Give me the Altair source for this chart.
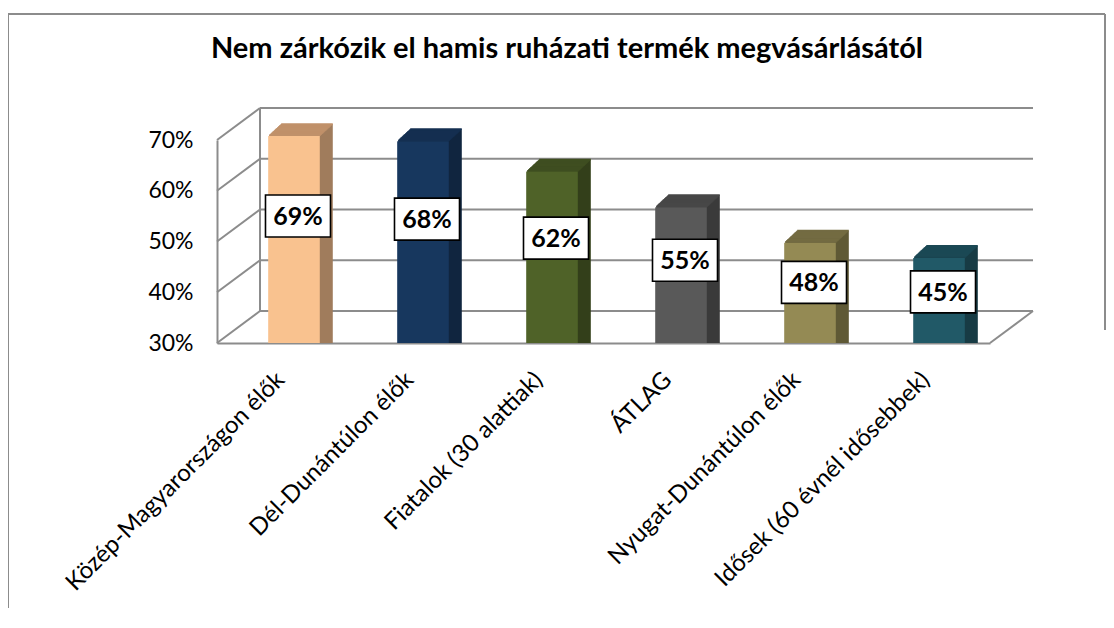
import altair as alt
import pandas as pd

# ---- data ----
categories = [
    "Közép-Magyarországon élők",
    "Dél-Dunántúlon élők",
    "Fiatalok (30 alattiak)",
    "ÁTLAG",
    "Nyugat-Dunántúlon élők",
    "Idősek (60 évnél idősebbek)",
]
values = [69, 68, 62, 55, 48, 45]
tick_values = [30, 40, 50, 60, 70]
title_text = ["Nem zárkózik el hamis ruházati termék megvásárlásától"]

# ---- styles ----
front_colors = ["#F9C28F", "#17375E", "#4F6228", "#595959", "#948A54", "#215967"]
top_colors = ["#C0916A", "#142F51", "#3F4E20", "#474747", "#736B42", "#1B4854"]
side_colors = ["#A07C5C", "#10253F", "#333F1A", "#3A3A3A", "#5F5935", "#173B44"]
GRID = "#8C8C8C"
FONT = "Lato"

W, H = 773, 203
YMIN, YMAX = 30, 70
PX_PER = H / (YMAX - YMIN)
WALL_DX, WALL_DY = 43, 32
WALL_DV = WALL_DY / PX_PER
BAR_DX, BAR_DY = 13, 9          # bar front face shift into the scene
DEPTH_STEPS = 13                # bar depth in px
DEPTH_RISE = 12.0

df = pd.DataFrame({"cat": categories, "v": values})
tdf = pd.DataFrame({"t": tick_values})
one = pd.DataFrame({"title": title_text})

yscale = alt.Scale(domain=[YMIN, YMAX], nice=False, zero=False)
yaxis = alt.Axis(
    values=tick_values, labelExpr="datum.value + '%'", title=None,
    grid=False, ticks=False, domainColor=GRID, domainWidth=2,
    labelFont=FONT, labelFontSize=23, labelColor="#000000", labelPadding=24,
)
xscale = alt.Scale(domain=categories, paddingInner=0.6, paddingOuter=0.296)
xaxis = alt.Axis(
    title=None, ticks=False, grid=False, domainColor=GRID, domainWidth=2,
    labelAngle=-45, labelAlign="right", labelBaseline="middle",
    labelFont=FONT, labelFontSize=24, labelColor="#000000", labelPadding=33,
    labelLimit=400,
)
X = alt.X("cat:N", sort=categories, scale=xscale, axis=xaxis)
Y = alt.Y("v:Q", scale=yscale, axis=yaxis)
YT = alt.Y("t:Q", scale=yscale, axis=yaxis)

layers = []

# frame of the chart
layers.append(alt.Chart(one).mark_rule(color=GRID, strokeWidth=2).encode(
    x=alt.value(-209), x2=alt.value(888), y=alt.value(-126)))
layers.append(alt.Chart(one).mark_rule(color=GRID, strokeWidth=2).encode(
    x=alt.value(-209), y=alt.value(-126), y2=alt.value(480)))
layers.append(alt.Chart(one).mark_rule(color=GRID, strokeWidth=2).encode(
    x=alt.value(888), y=alt.value(-126), y2=alt.value(190)))

# title
layers.append(alt.Chart(one).mark_text(
    font=FONT, fontSize=29, fontWeight="bold", color="#000000",
    align="center", baseline="alphabetic").encode(
    x=alt.value(350), y=alt.value(-82), text="title:N"))

# back-wall gridlines
layers.append(alt.Chart(tdf).mark_rule(color=GRID, strokeWidth=2, yOffset=-WALL_DY).encode(
    y=YT, x=alt.value(WALL_DX), x2=alt.value(W + WALL_DX)))
# left-wall diagonals
layers.append(alt.Chart(tdf).transform_calculate(t2=f"datum.t + {WALL_DV}")
              .mark_rule(color=GRID, strokeWidth=2).encode(
    y=YT, y2="t2:Q", x=alt.value(0), x2=alt.value(WALL_DX)))
# left-wall back edge
layers.append(alt.Chart(tdf).transform_aggregate(lo="min(t)", hi="max(t)")
              .transform_calculate(lo2=f"datum.lo + {WALL_DV}", hi2=f"datum.hi + {WALL_DV}")
              .mark_rule(color=GRID, strokeWidth=2).encode(
    x=alt.value(WALL_DX), y=alt.Y("lo2:Q", scale=yscale, axis=yaxis), y2="hi2:Q"))
# floor right edge
layers.append(alt.Chart(tdf).transform_aggregate(lo="min(t)")
              .transform_calculate(lo2=f"datum.lo + {WALL_DV}")
              .mark_rule(color=GRID, strokeWidth=2).encode(
    x=alt.value(W), x2=alt.value(W + WALL_DX),
    y=alt.Y("lo:Q", scale=yscale, axis=yaxis), y2="lo2:Q"))

# bar depth (side faces)
for k in range(1, DEPTH_STEPS + 1):
    layers.append(alt.Chart(df).mark_bar(
        xOffset=BAR_DX + k, yOffset=-BAR_DY - k * DEPTH_RISE / DEPTH_STEPS).encode(
        x=X, y=Y, y2=alt.datum(YMIN),
        color=alt.Color("cat:N", scale=alt.Scale(domain=categories, range=side_colors), legend=None)))
# bar top faces
for k in range(1, DEPTH_STEPS + 1):
    layers.append(alt.Chart(df).mark_tick(
        xOffset=BAR_DX + k, yOffset=-BAR_DY - k * DEPTH_RISE / DEPTH_STEPS,
        size=51.6, thickness=1.6, opacity=1).encode(
        x=X, y=Y,
        color=alt.Color("cat:N", scale=alt.Scale(domain=categories, range=top_colors), legend=None)))
# bar front faces
layers.append(alt.Chart(df).mark_bar(xOffset=BAR_DX, yOffset=-BAR_DY).encode(
    x=X, y=Y, y2=alt.datum(YMIN),
    color=alt.Color("cat:N", scale=alt.Scale(domain=categories, range=front_colors), legend=None)))

# data labels
lab = alt.Chart(df).transform_calculate(lab="datum.v * 0.623 + 12.04", txt="datum.v + '%'")
layers.append(lab.mark_point(
    shape="M-1,-0.646L1,-0.646L1,0.646L-1,0.646Z", size=4225, filled=True,
    fill="#FFFFFF", stroke="#000000", strokeWidth=1.6, opacity=1, xOffset=BAR_DX + 4).encode(
    x=X, y=alt.Y("lab:Q", scale=yscale, axis=yaxis)))
layers.append(lab.mark_text(
    font=FONT, fontSize=25, fontWeight="bold", color="#000000",
    baseline="middle", align="center", xOffset=BAR_DX + 4, dy=1).encode(
    x=X, y=alt.Y("lab:Q", scale=yscale, axis=yaxis), text="txt:N"))

chart = alt.layer(*layers).resolve_scale(color="independent").properties(
    width=W, height=H,
    padding={"left": 209, "top": 132, "right": 116, "bottom": 265},
    autosize=alt.AutoSizeParams(type="none"),
).configure(background="#FFFFFF").configure_view(strokeWidth=0, stroke=None)

chart.save("out.html", embed_options={"renderer": "svg", "actions": False})
